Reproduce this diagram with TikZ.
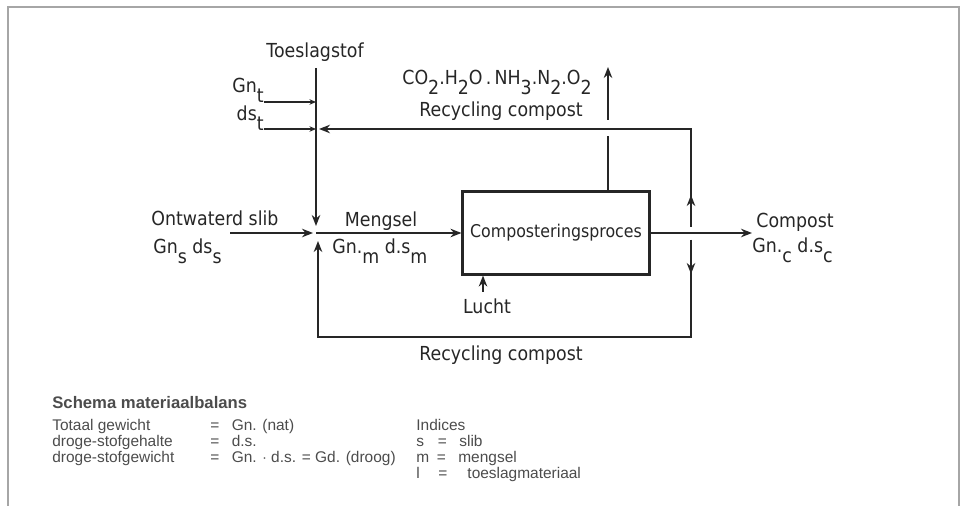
\documentclass[tikz,border=0pt]{standalone}
\usepackage{fontspec}
\usepackage{xcolor}
\usepackage{tikz}
\usetikzlibrary{arrows.meta, positioning}
\newfontfamily\diafont[FakeStretch=0.9]{DejaVu Sans}
\newfontfamily\legfont{Liberation Sans}
\newcommand{\lowidx}[1]{\raisebox{-0.9ex}{#1}}

\begin{document}
\begin{tikzpicture}[
  x=0.02cm, y=-0.02cm,
  flow/.style={draw=black!85, line width=1.2pt},
  arrow/.style={flow, -{Stealth[length=2.2mm, width=1.7mm]}},
  smallarrow/.style={draw=black!85, line width=0.7pt, -{Stealth[length=1.3mm, width=1.1mm]}},
  frame/.style={draw=black!35, line width=0.6pt},
  lbl/.style={inner sep=0pt, font=\diafont\fontsize{11}{13}\selectfont, text=black!85},
  procbox/.style={flow, rectangle, minimum width=3.74cm, minimum height=1.66cm,
                  inner sep=0pt, font=\diafont\fontsize{10}{12}\selectfont, text=black!85},
  legend/.style={inner sep=0pt, anchor=base west, font=\legfont\fontsize{8.8}{10}\selectfont, text=black!70}
]
\useasboundingbox (0,0) rectangle (966,506);
\draw[frame] (8,506) -- (8,7) -- (959,7) -- (959,506);

% process and flow points
\node[procbox] (proc) at (556,233) {Composteringsproces};
\coordinate (tin) at (316,68);
\coordinate (mix) at (316,233);
\coordinate (slib) at (230,233);
\coordinate (gnt) at (264,102);
\coordinate (dst) at (264,129);
\coordinate (gas) at (608,67);
\coordinate (rtop) at (691,129);
\coordinate (rupper) at (691,227);
\coordinate (rlower) at (691,240);
\coordinate (rbot) at (691,337);
\coordinate (lbot) at (318,337);
\coordinate (lin) at (318,241);
\coordinate (cout) at (752,233);
\coordinate (air) at (483,292);

% labels
\node[lbl, anchor=base] (toeslag) at (315,58) {Toeslagstof};
\node[lbl, anchor=base east] (gntlbl) at (264,93) {Gn\lowidx{t}};
\node[lbl, anchor=base east] (dstlbl) at (264,121) {ds\lowidx{t}};
\node[lbl, anchor=base] (gaslbl) at (497,85)
  {CO\lowidx{2}.H\lowidx{2}O\,.\,NH\lowidx{3}.N\lowidx{2}.O\lowidx{2}};
\node[lbl, anchor=base] (rectop) at (501,117) {Recycling compost};
\node[lbl, anchor=base west] (sliblbl) at (151,226) {Ontwaterd slib};
\node[lbl, anchor=base west] (sliblbl2) at (153,254) {Gn\lowidx{s} ds\lowidx{s}};
\node[lbl, anchor=base] (mengsel) at (381,227) {Mengsel};
\node[lbl, anchor=base west] (mengsel2) at (332,254) {Gn.\lowidx{m} d.s\lowidx{m}};
\node[lbl, anchor=base west] (compost) at (756,228) {Compost};
\node[lbl, anchor=base west] (compost2) at (752,253) {Gn.\lowidx{c} d.s\lowidx{c}};
\node[lbl, anchor=base] (lucht) at (487,314) {Lucht};
\node[lbl, anchor=base] (recbot) at (501,360) {Recycling compost};

% flows
\draw[arrow] (tin) -- ++(0,158);
\draw[smallarrow] (gnt) -- (gnt -| tin);
\draw[smallarrow] (dst) -- (dst -| tin);
\draw[arrow] (slib) -- ++(83,0);
\draw[arrow] (mix) -- (proc.west);
\draw[arrow] (proc.east) -- (cout);
\draw[arrow] (air) -- (air |- proc.south);
\draw[flow] (proc.north -| gas) -- ++(0,-54);
\draw[arrow] (gas) ++(0,53) -- (gas);
\draw[arrow] (rupper) -- ++(0,-32);
\draw[arrow] (rupper) -- (rtop) -- ++(-372,0);
\draw[arrow] (rlower) -- ++(0,34);
\draw[arrow] (rlower) -- (rbot) -- (lbot) -- (lin);

% legend
\node[legend, font=\legfont\bfseries\fontsize{9.5}{11}\selectfont] (title) at (52,408) {Schema materiaalbalans};
\node[legend] (r1) at (52,430) {Totaal gewicht};
\node[legend] (r2) at (52,446) {droge-stofgehalte};
\node[legend] (r3) at (52,462) {droge-stofgewicht};
\node[legend] (e1) at (210,430) {=\hspace{0.8em}Gn. (nat)};
\node[legend] (e2) at (210,446) {=\hspace{0.8em}d.s.};
\node[legend] (e3) at (210,462) {=\hspace{0.8em}Gn. $\cdot$ d.s. = Gd. (droog)};
\node[legend] (i0) at (416,430) {Indices};
\node[legend] (i1) at (416,446) {s\hspace{0.9em}=\hspace{0.8em}slib};
\node[legend] (i2) at (416,462) {m\hspace{0.5em}=\hspace{0.8em}mengsel};
\node[legend] (i3) at (416,478) {l\hspace{1.2em}=\hspace{1.3em}toeslagmateriaal};
\end{tikzpicture}
\end{document}
